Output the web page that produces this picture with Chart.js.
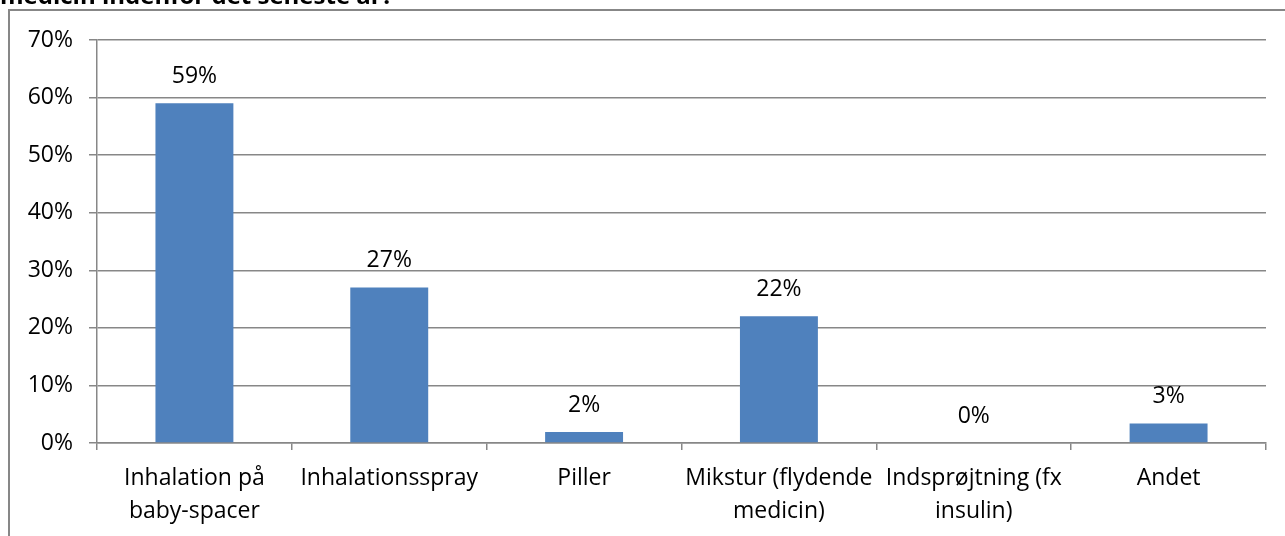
<!DOCTYPE html>
<html>
<head>
<meta charset="utf-8">
<script src="https://cdn.jsdelivr.net/npm/chart.js@4.4.1/dist/chart.umd.min.js"></script>
<style>
    html, body { margin: 0; padding: 0; background: #fff; overflow: hidden; }
    #wrap { position: relative; width: 1285px; height: 536px; }
</style>
</head>
<body>
<div id="wrap"><canvas id="medChart" width="1285" height="536"></canvas></div>
<script>
// Chart data
const titleText = 'medicin indenfor det seneste år?';
const categories = [
    ['Inhalation på', 'baby-spacer'],
    'Inhalationsspray',
    'Piller',
    ['Mikstur (flydende', 'medicin)'],
    ['Indsprøjtning (fx', 'insulin)'],
    'Andet'
];
const values = [59, 27, 1.9, 22, 0, 3.4];
const valueLabels = ['59%', '27%', '2%', '22%', '0%', '3%'];
const yTicks = [0, 10, 20, 30, 40, 50, 60, 70];

const FONT = '"Open Sans", Lato, sans-serif';
const GRID = '#878787';

// Frame + cut-off title
const framePlugin = {
    id: 'frame',
    beforeDraw(chart) {
        const c = chart.ctx;
        c.save();
        c.fillStyle = '#fff';
        c.fillRect(0, 0, chart.width, chart.height);
        c.strokeStyle = GRID;
        c.lineWidth = 2;
        c.strokeRect(9, 10, 2000, 2000);
        c.fillStyle = '#000';
        c.font = 'bold 24px ' + FONT;
        c.textBaseline = 'alphabetic';
        c.textAlign = 'left';
        c.fillText(titleText, 0, 4);
        c.restore();
    }
};

// Value labels above bars
const labelPlugin = {
    id: 'barLabels',
    afterDatasetsDraw(chart) {
        const c = chart.ctx;
        const meta = chart.getDatasetMeta(0);
        c.save();
        c.fillStyle = '#000';
        c.font = '23px ' + FONT;
        c.textAlign = 'center';
        c.textBaseline = 'middle';
        meta.data.forEach(function(bar, i) {
            c.fillText(valueLabels[i], bar.x, bar.y - 27);
        });
        c.restore();
    }
};

new Chart(document.getElementById('medChart'), {
    type: 'bar',
    data: {
        labels: categories,
        datasets: [{
            data: values,
            backgroundColor: '#4F81BD',
            borderWidth: 0,
            barPercentage: 0.4,
            categoryPercentage: 1
        }]
    },
    options: {
        responsive: false,
        animation: false,
        layout: { padding: { left: 0, top: 40, right: 19, bottom: 0 } },
        plugins: {
            legend: { display: false },
            tooltip: { enabled: false }
        },
        scales: {
            y: {
                min: 0,
                max: 70,
                afterFit(scale) { scale.width = 97; },
                afterBuildTicks(scale) { scale.ticks = yTicks.map(v => ({ value: v })); },
                border: { display: true, color: GRID, width: 1.5 },
                grid: { color: GRID, lineWidth: 1.5, tickLength: 8, drawTicks: true },
                ticks: {
                    padding: 16,
                    color: '#000',
                    font: { family: FONT, size: 23 },
                    callback: v => v + '%'
                }
            },
            x: {
                afterFit(scale) { scale.height = 93; },
                border: { display: true, color: GRID, width: 1.5 },
                grid: { offset: true, drawOnChartArea: false, color: GRID, lineWidth: 1.5, tickLength: 7 },
                ticks: {
                    padding: 12,
                    color: '#000',
                    maxRotation: 0,
                    autoSkip: false,
                    font: { family: FONT, size: 23, lineHeight: 1.43 }
                }
            }
        }
    },
    plugins: [framePlugin, labelPlugin]
});
</script>
</body>
</html>
